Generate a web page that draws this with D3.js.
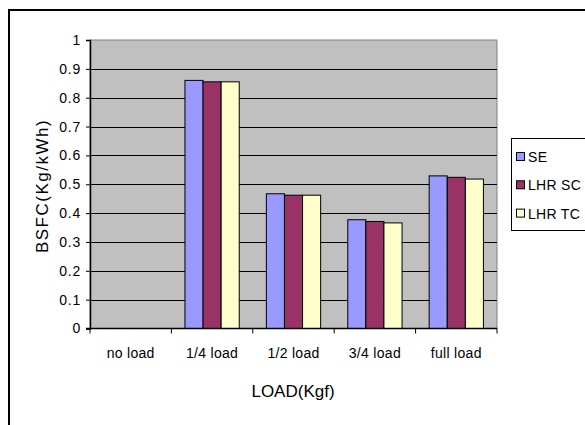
<!DOCTYPE html>
<html>
<head>
<meta charset="utf-8">
<script src="https://cdn.jsdelivr.net/npm/d3@7"></script>
<style>
  html, body { margin: 0; padding: 0; background: #fff; }
  svg { display: block; font-family: "Liberation Sans", Arial, sans-serif; }
</style>
</head>
<body>
<svg id="chart" width="585" height="425"></svg>
<script>
// BSFC at each load step for the three engine configurations
const categories = ["no load", "1/4 load", "1/2 load", "3/4 load", "full load"];
const seriesNames = ["SE", "LHR SC", "LHR TC"];
const seValues    = [null, 0.860, 0.467, 0.377, 0.529];
const lhrScValues = [null, 0.855, 0.462, 0.371, 0.524];
const lhrTcValues = [null, 0.855, 0.462, 0.366, 0.518];
const yTicks = [0, 0.1, 0.2, 0.3, 0.4, 0.5, 0.6, 0.7, 0.8, 0.9, 1];
const colors = ["#9999FF", "#993366", "#FFFFCC"];

const series = [seValues, lhrScValues, lhrTcValues];

const svg = d3.select("#chart");

// outer chart frame
svg.append("path")
  .attr("d", "M9,425 V10 H585")
  .attr("fill", "none")
  .attr("stroke", "#000")
  .attr("stroke-width", 2);

const plot = { left: 90, right: 497, top: 40, bottom: 328.5 };

const x0 = d3.scaleBand()
  .domain(categories)
  .range([plot.left, plot.right])
  .paddingInner(0)
  .paddingOuter(0);

// grouped bars: three bars per category, 150% gap between groups
const groupWidth = x0.bandwidth() * 3 / 4.5;
const x1 = d3.scaleBand()
  .domain(seriesNames)
  .range([0, groupWidth]);

const y = d3.scaleLinear().domain([0, 1]).range([plot.bottom, plot.top]);

// plot area background
svg.append("rect")
  .attr("x", plot.left)
  .attr("y", plot.top)
  .attr("width", plot.right - plot.left)
  .attr("height", plot.bottom - plot.top)
  .attr("fill", "#C0C0C0")
  .attr("stroke", "#808080")
  .attr("stroke-width", 1);

// horizontal gridlines
svg.append("g")
  .selectAll("line")
  .data(yTicks.filter(t => t > 0 && t < 1))
  .join("line")
  .attr("x1", plot.left)
  .attr("x2", plot.right)
  .attr("y1", d => Math.round(y(d)) + 0.5)
  .attr("y2", d => Math.round(y(d)) + 0.5)
  .attr("stroke", "#000")
  .attr("stroke-width", 1);

// bars
const groups = svg.append("g")
  .selectAll("g")
  .data(categories)
  .join("g")
  .attr("transform", d => `translate(${x0(d) + (x0.bandwidth() - groupWidth) / 2},0)`);

groups.selectAll("rect")
  .data((c, i) => series.map((s, k) => ({ name: seriesNames[k], value: s[i], k })))
  .join("rect")
  .filter(d => d.value != null)
  .attr("x", d => x1(d.name))
  .attr("y", d => y(d.value))
  .attr("width", x1.bandwidth())
  .attr("height", d => y(0) - y(d.value))
  .attr("fill", d => colors[d.k])
  .attr("stroke", "#000")
  .attr("stroke-width", 1);

// y axis
const yAxis = svg.append("g")
  .attr("transform", `translate(${plot.left},0)`)
  .call(d3.axisLeft(y).tickValues(yTicks).tickFormat(d3.format("~g")).tickSize(4).tickPadding(5));
yAxis.select(".domain").attr("stroke", "#000").attr("stroke-width", 1.5);
yAxis.selectAll(".tick line").attr("stroke", "#000");
yAxis.selectAll("text").attr("font-size", 14).attr("fill", "#000")
  .attr("letter-spacing", 0.8)
  .attr("font-family", "Liberation Sans, Arial, sans-serif");

// x axis: ticks at category boundaries
const xAxisG = svg.append("g").attr("transform", `translate(0,${plot.bottom})`);
xAxisG.append("line")
  .attr("x1", plot.left - 4).attr("x2", plot.right)
  .attr("y1", 0).attr("y2", 0)
  .attr("stroke", "#000").attr("stroke-width", 1.5);
xAxisG.selectAll("line.tk")
  .data(categories.map(c => x0(c)).concat([plot.right]))
  .join("line")
  .attr("class", "tk")
  .attr("x1", d => d).attr("x2", d => d)
  .attr("y1", 0).attr("y2", 5)
  .attr("stroke", "#000");
xAxisG.selectAll("text")
  .data(categories)
  .join("text")
  .attr("x", d => x0(d) + x0.bandwidth() / 2)
  .attr("y", 29)
  .attr("text-anchor", "middle")
  .attr("font-size", 14)
  .attr("letter-spacing", 0.3)
  .text(d => d);

// axis titles
svg.append("text")
  .attr("x", 293)
  .attr("y", 397)
  .attr("text-anchor", "middle")
  .attr("font-size", 17)
  .text("LOAD(Kgf)");

svg.append("text")
  .attr("transform", "translate(48,186) rotate(-90)")
  .attr("text-anchor", "middle")
  .attr("font-size", 17)
  .attr("letter-spacing", 1.5)
  .text("BSFC(Kg/kWh)");

// legend
const legend = svg.append("g");
legend.append("rect")
  .attr("x", 511.5).attr("y", 138.5)
  .attr("width", 80).attr("height", 92)
  .attr("fill", "#fff")
  .attr("stroke", "#000")
  .attr("stroke-width", 1);
const items = legend.selectAll("g.item")
  .data(seriesNames)
  .join("g")
  .attr("class", "item")
  .attr("transform", (d, i) => `translate(516,${157 + i * 28.3})`);
items.append("rect")
  .attr("x", 0.5).attr("y", -4.5)
  .attr("width", 8).attr("height", 8)
  .attr("fill", (d, i) => colors[i])
  .attr("stroke", "#000");
items.append("text")
  .attr("x", 12)
  .attr("y", 5)
  .attr("font-size", 14)
  .attr("letter-spacing", 0.3)
  .text(d => d);
</script>
</body>
</html>
